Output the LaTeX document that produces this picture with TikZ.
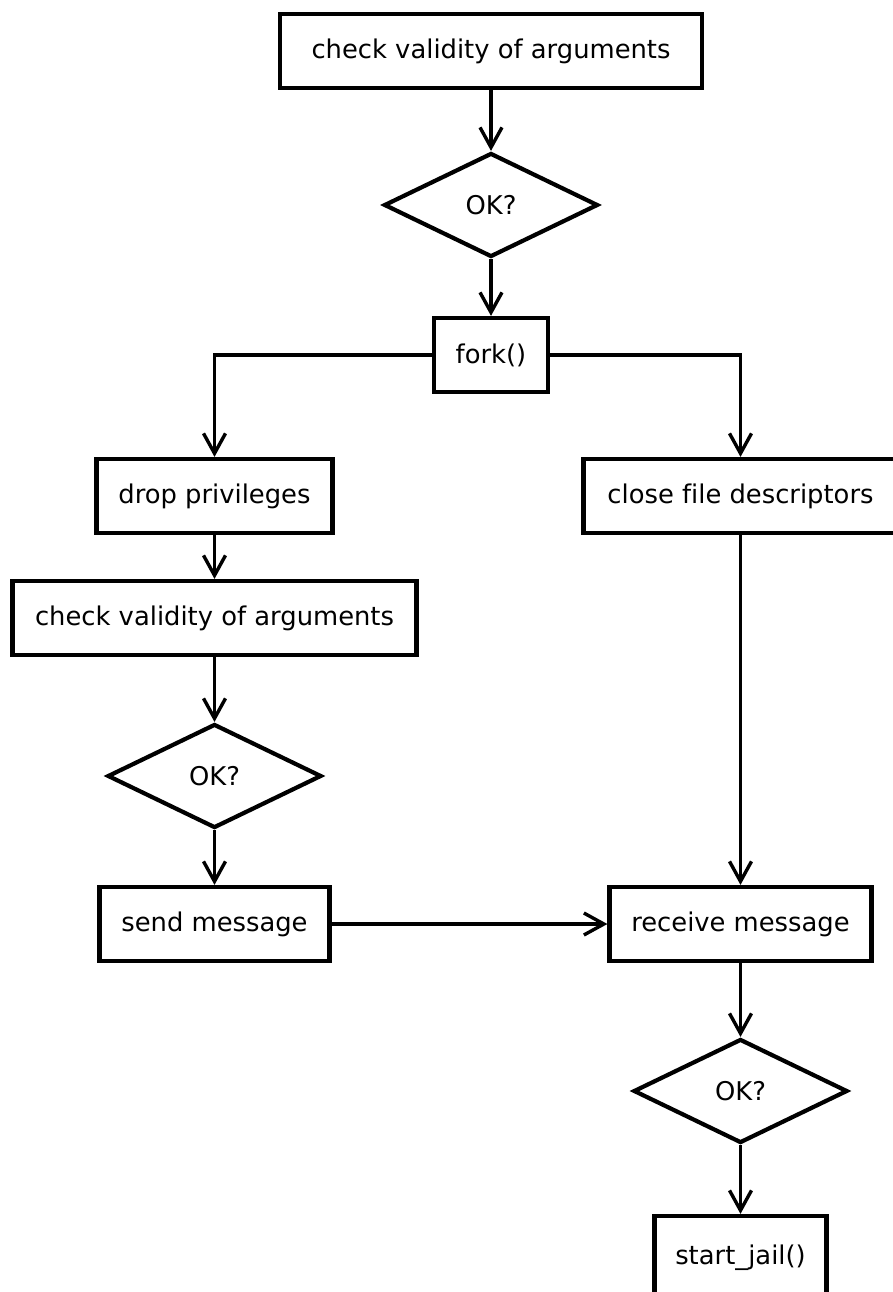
\documentclass[tikz,border=0pt]{standalone}
\usepackage{fontspec}
\setmainfont[Ligatures=NoCommon]{DejaVu Sans}
\usetikzlibrary{shapes.geometric,arrows.meta}

\tikzset{
  stepbox/.style={draw, line width=2.1pt, rectangle, minimum height=37pt, inner sep=0pt, font=\fontsize{12.9}{15}\selectfont},
  test/.style={draw, line width=2.1pt, diamond, aspect=2, minimum width=107pt, minimum height=52pt, inner sep=0pt, font=\fontsize{12.9}{15}\selectfont},
  flow/.style={line width=1.7pt, -{Straight Barb[length=10pt, width=11pt, line width=1.7pt]}}
}

\begin{document}
\begin{tikzpicture}[x=0.5pt, y=-0.5pt]
        \useasboundingbox (0,0) rectangle (893,1292);

        \node[stepbox, minimum width=211pt] (check) at (491,51) {check validity of arguments};
        \node[test] (ok) at (491,205) {OK?};
        \node[stepbox, minimum width=57pt] (fork) at (491,355) {fork()};

        % child
        \node[stepbox, minimum width=118pt] (drop) at (214.5,496) {drop privileges};
        \node[stepbox, minimum width=202pt] (childcheck) at (214.5,618) {check validity of arguments};
        \node[test] (childok) at (214.5,776) {OK?};
        \node[stepbox, minimum width=115pt] (send) at (214.5,924) {send message};

        % parent
        \node[stepbox, minimum width=157pt] (close) at (740.5,496) {close file descriptors};
        \node[stepbox, minimum width=131pt] (recv) at (740.5,924) {receive message};
        \node[test] (parentok) at (740.5,1091) {OK?};
        \node[stepbox, minimum width=86pt, minimum height=42pt] (jail) at (740.5,1258) {start\_jail()};

        \draw[flow] (check) -- (ok);
        \draw[flow] (ok) -- (fork);
        \draw[flow] (fork.west) -| (drop.north);
        \draw[flow] (fork.east) -| (close.north);
        \draw[flow] (drop) -- (childcheck);
        \draw[flow] (childcheck) -- (childok);
        \draw[flow] (childok) -- (send);
        \draw[flow] (close) -- (recv);
        \draw[flow] (send) -- (recv);
        \draw[flow] (recv) -- (parentok);
        \draw[flow] (parentok) -- (jail);
      \end{tikzpicture}
\end{document}
